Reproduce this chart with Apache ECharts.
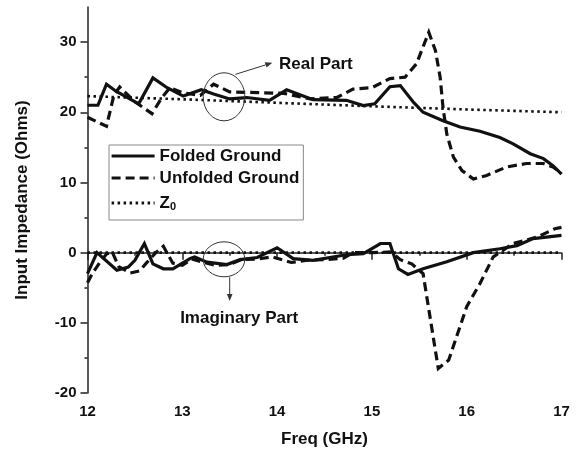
<!DOCTYPE html>
<html><head><meta charset="utf-8">
<script src="https://cdn.jsdelivr.net/npm/echarts@6/dist/echarts.min.js"></script>
<style>html,body{margin:0;padding:0;background:#fff}#c{width:579px;height:453px}</style>
</head><body><div id="c"></div>
<script>
// ---- data (x: GHz, y: Ohms) ----
const foldedReal = [[12.0,21.0],[12.11,21.0],[12.2,24.0],[12.3,23.0],[12.54,21.2],[12.69,24.9],[12.84,23.5],[13.01,22.3],[13.2,23.2],[13.33,22.6],[13.5,21.9],[13.68,22.1],[13.92,21.7],[14.1,23.2],[14.38,21.8],[14.73,21.7],[14.91,20.95],[15.03,21.2],[15.19,23.65],[15.3,23.8],[15.44,21.4],[15.54,20.0],[15.75,18.8],[15.93,17.9],[16.14,17.3],[16.35,16.4],[16.49,15.5],[16.67,14.1],[16.81,13.4],[16.91,12.4],[17.0,11.2]];
const unfoldedReal = [[12.0,19.3],[12.2,18.0],[12.28,22.5],[12.34,23.6],[12.5,21.5],[12.68,19.8],[12.78,22.0],[12.87,23.5],[13.0,22.8],[13.19,22.4],[13.33,24.0],[13.5,22.9],[13.8,22.8],[14.07,22.7],[14.35,21.9],[14.63,22.1],[14.8,23.3],[15.0,23.5],[15.19,24.8],[15.35,25.0],[15.47,26.9],[15.6,31.4],[15.67,28.8],[15.72,25.0],[15.75,20.7],[15.79,16.9],[15.86,13.6],[15.95,11.7],[16.07,10.5],[16.21,11.0],[16.42,12.2],[16.63,12.7],[16.81,12.7],[16.91,12.2],[17.0,11.3]];
const z0Real = [[12,22.3],[13,21.85],[14,21.35],[15,20.85],[16,20.4],[17,20.0]];
const foldedImag = [[12.0,-3.0],[12.1,0.0],[12.31,-2.5],[12.43,-2.05],[12.5,-1.1],[12.6,1.3],[12.69,-1.6],[12.8,-2.3],[12.9,-2.3],[13.08,-0.85],[13.13,-0.6],[13.26,-1.35],[13.47,-1.7],[13.61,-1.0],[13.79,-0.7],[14.0,0.7],[14.17,-0.85],[14.38,-1.1],[14.73,-0.3],[14.91,-0.15],[15.09,1.3],[15.19,1.3],[15.28,-2.3],[15.38,-3.1],[15.54,-2.3],[15.79,-1.3],[16.07,0.0],[16.35,0.55],[16.53,1.0],[16.7,2.0],[16.84,2.2],[17.0,2.45]];
const unfoldedImag = [[12.0,-4.3],[12.05,-3.0],[12.13,-1.4],[12.2,-0.2],[12.26,0.1],[12.33,-2.0],[12.45,-2.9],[12.55,-2.6],[12.62,-1.5],[12.72,0.0],[12.8,0.9],[12.9,-1.5],[13.0,-1.8],[13.1,-0.9],[13.2,-1.3],[13.35,-1.8],[13.5,-1.7],[13.62,-1.0],[13.8,-0.9],[13.95,-0.6],[14.15,-1.4],[14.3,-1.1],[14.5,-1.0],[14.7,-0.8],[14.8,0.0],[15.0,0.0],[15.2,0.1],[15.3,-1.0],[15.42,-1.6],[15.54,-3.0],[15.7,-16.5],[15.81,-15.3],[16.0,-7.7],[16.14,-4.4],[16.28,-0.6],[16.49,1.3],[16.74,2.2],[16.93,3.4],[17.0,3.6]];
const z0Imag = [[12,0],[17,0]];
const yMajorTicks = [-20,-10,0,10,20,30];
const yMinorTicks = [-15,-5,5,15,25];
const seriesNames = ['Folded Ground','Unfolded Ground','Z0'];
// annotation anchors in data coordinates
const realCircle = [13.44, 22.2];
const imagCircle = [13.44, -0.95];
const realArrow = [[13.56, 25.4], [13.95, 27.05]];
const imagArrow = [[13.5, -3.5], [13.5, -6.9]];
const realLabel = [14.02, 26.9];
const imagLabel = [13.6, -9.4];

const FONT = '"Liberation Sans", Arial, sans-serif';
const INK = '#111';
const chart = echarts.init(document.getElementById('c'));

function mk(name, data, type, width) {
  return {name, type:'line', data, symbol:'none', silent:true, animation:false,
    lineStyle:{color:INK, width, type, cap:'butt', join:'miter'}, itemStyle:{color:INK}};
}
const DASH = [9,5], DOT = [2.5,3.5];

chart.setOption({
  animation:false,
  backgroundColor:'#fff',
  grid:{left:87.5, right:17.5, top:7, bottom:60, containLabel:false},
  legend:{
    data:seriesNames, orient:'vertical', left:109, top:145,
    itemWidth:43, itemHeight:14, itemGap:4,
    padding:[2,4,8,1],
    borderColor:'#888', borderWidth:1,
    itemStyle:{opacity:0},
    lineStyle:{width:3.2},
    formatter:n => n === 'Z0' ? '{b|Z}{s|0}' : n,
    textStyle:{fontFamily:FONT, fontWeight:'bold', fontSize:17, color:INK, lineHeight:18,
      rich:{b:{fontFamily:FONT, fontWeight:'bold', fontSize:17, color:INK, lineHeight:18},
            s:{fontFamily:FONT, fontWeight:'bold', fontSize:11, color:INK, verticalAlign:'bottom', lineHeight:18, padding:[10,0,0,0]}}}
  },
  xAxis:{
    type:'value', min:12, max:17, interval:1,
    name:'Freq (GHz)', nameLocation:'middle', nameGap:38,
    nameTextStyle:{fontFamily:FONT, fontWeight:'bold', fontSize:17, color:INK},
    axisLine:{lineStyle:{color:'#222', width:1.5}},
    axisTick:{length:7, lineStyle:{color:'#222', width:1.5}},
    minorTick:{show:true, splitNumber:2, length:3, lineStyle:{color:'#222', width:1.5}},
    axisLabel:{margin:11, fontFamily:FONT, fontWeight:'bold', fontSize:15, color:INK},
    splitLine:{show:false}
  },
  yAxis:[{
    type:'value', min:-20, max:35, interval:10,
    name:'Input Impedance (Ohms)', nameLocation:'middle', nameGap:57,
    nameTextStyle:{fontFamily:FONT, fontWeight:'bold', fontSize:17, color:INK},
    axisLine:{show:true, lineStyle:{color:'#222', width:1.5}},
    axisTick:{show:true, length:7, customValues:yMajorTicks, lineStyle:{color:'#222', width:1.5}},
    axisLabel:{margin:11, customValues:yMajorTicks, fontFamily:FONT, fontWeight:'bold', fontSize:15, color:INK},
    splitLine:{show:false}
  },{
    type:'value', min:-20, max:35, position:'left', offset:0,
    axisLine:{show:false}, axisLabel:{show:false}, splitLine:{show:false},
    axisTick:{show:true, length:3, customValues:yMinorTicks, lineStyle:{color:'#222', width:1.5}}
  }],
  series:[
    mk('Z0', z0Real, DOT, 2.6),
    mk('Z0', z0Imag, DOT, 2.6),
    mk('Unfolded Ground', unfoldedReal, DASH, 3.2),
    mk('Unfolded Ground', unfoldedImag, DASH, 3.2),
    mk('Folded Ground', foldedReal, 'solid', 3.2),
    mk('Folded Ground', foldedImag, 'solid', 3.2)
  ]
});

function px(p){ return chart.convertToPixel({xAxisIndex:0, yAxisIndex:0}, p); }
function arrow(a, b) {
  const p1 = px(a), p2 = px(b);
  const dx = p2[0]-p1[0], dy = p2[1]-p1[1], L = Math.hypot(dx,dy), ux = dx/L, uy = dy/L;
  const hl = 7, hw = 2.8;
  const base = [p2[0]-ux*hl, p2[1]-uy*hl];
  return [
    {type:'line', shape:{x1:p1[0], y1:p1[1], x2:base[0], y2:base[1]}, style:{stroke:'#333', lineWidth:1}},
    {type:'polygon', shape:{points:[p2, [base[0]-uy*hw, base[1]+ux*hw], [base[0]+uy*hw, base[1]-ux*hw]]}, style:{fill:'#333'}}
  ];
}
const c1 = px(realCircle), c2 = px(imagCircle), t1 = px(realLabel), t2 = px(imagLabel);
chart.setOption({graphic:[
  {type:'ellipse', shape:{cx:c1[0], cy:c1[1], rx:20.8, ry:24}, style:{fill:'none', stroke:'#333', lineWidth:1}, z:10},
  {type:'ellipse', shape:{cx:c2[0], cy:c2[1], rx:20.8, ry:17.5}, style:{fill:'none', stroke:'#333', lineWidth:1}, z:10},
  ...arrow(realArrow[0], realArrow[1]),
  ...arrow(imagArrow[0], imagArrow[1]),
  {type:'text', x:t1[0], y:t1[1], style:{text:'Real Part', fontFamily:FONT, fontWeight:'bold', fontSize:17, fill:INK, align:'left', verticalAlign:'middle'}},
  {type:'text', x:t2[0], y:t2[1], style:{text:'Imaginary Part', fontFamily:FONT, fontWeight:'bold', fontSize:17, fill:INK, align:'center', verticalAlign:'middle'}}
]});
</script></body></html>
